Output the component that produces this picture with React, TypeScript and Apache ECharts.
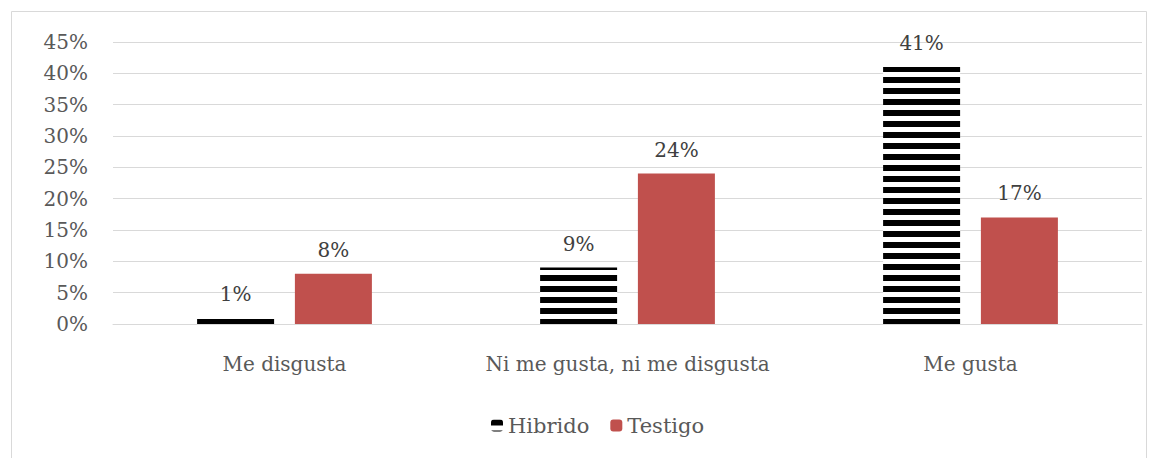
import React, { useEffect, useRef } from "react";
import * as echarts from "echarts";

const categories = ["Me disgusta", "Ni me gusta, ni me disgusta", "Me gusta"];
const hibrido = [1, 9, 41];
const testigo = [8, 24, 17];
const yTicks = [0, 5, 10, 15, 20, 25, 30, 35, 40, 45];

const FONT = "DejaVu Serif";
const FS = 20;

export default function App() {
  const ref = useRef<HTMLDivElement>(null);
  useEffect(() => {
    document.body.style.margin = "0";
    const chart = echarts.init(ref.current!, undefined, { renderer: "svg" });
    const label = {
      show: true,
      position: "top",
      distance: 14,
      fontFamily: FONT,
      fontSize: FS,
      color: "#404040",
      formatter: (p: any) => p.value + "%",
    };
    chart.setOption({
      animation: false,
      textStyle: { fontFamily: FONT },
      graphic: [
        {
          type: "rect",
          shape: { x: 11.5, y: 11.5, width: 1135, height: 450 },
          style: { fill: "none", stroke: "#d9d9d9", lineWidth: 1 },
          silent: true,
        },
      ],
      grid: { left: 113, right: 12, top: 42, bottom: 134 },
      legend: {
        bottom: 17,
        left: 486,
        itemWidth: 12,
        itemHeight: 12,
        itemGap: 21,
        textStyle: { fontFamily: FONT, fontSize: 21, color: "#595959" },
        data: ["Hibrido", "Testigo"],
      },
      xAxis: {
        type: "category",
        data: categories,
        axisLine: { lineStyle: { color: "#d9d9d9" } },
        axisTick: { show: false },
        axisLabel: { fontFamily: FONT, fontSize: FS, color: "#595959", margin: 30, interval: 0 },
      },
      yAxis: {
        type: "value",
        min: yTicks[0],
        max: yTicks[yTicks.length - 1],
        interval: 5,
        axisLine: { show: false },
        axisTick: { show: false },
        splitLine: { lineStyle: { color: "#d9d9d9" } },
        axisLabel: {
          fontFamily: FONT,
          fontSize: FS,
          color: "#595959",
          margin: 25,
          formatter: (v: number) => v + "%",
        },
      },
      series: [
        {
          name: "Hibrido",
          type: "bar",
          data: hibrido,
          barWidth: 77,
          barGap: "27%",
          itemStyle: {
            color: "#ffffff",
            decal: {
              symbol: "rect",
              symbolSize: 1,
              color: "#000000",
              dashArrayX: [1, 0],
              dashArrayY: [6, 4.5],
              rotation: 0,
            },
          },
          label,
        },
        {
          name: "Testigo",
          type: "bar",
          data: testigo,
          barWidth: 77,
          itemStyle: { color: "#c0504d" },
          label,
        },
      ],
    });
    return () => chart.dispose();
  }, []);
  return <div ref={ref} style={{ width: 1154, height: 458 }} />;
}
